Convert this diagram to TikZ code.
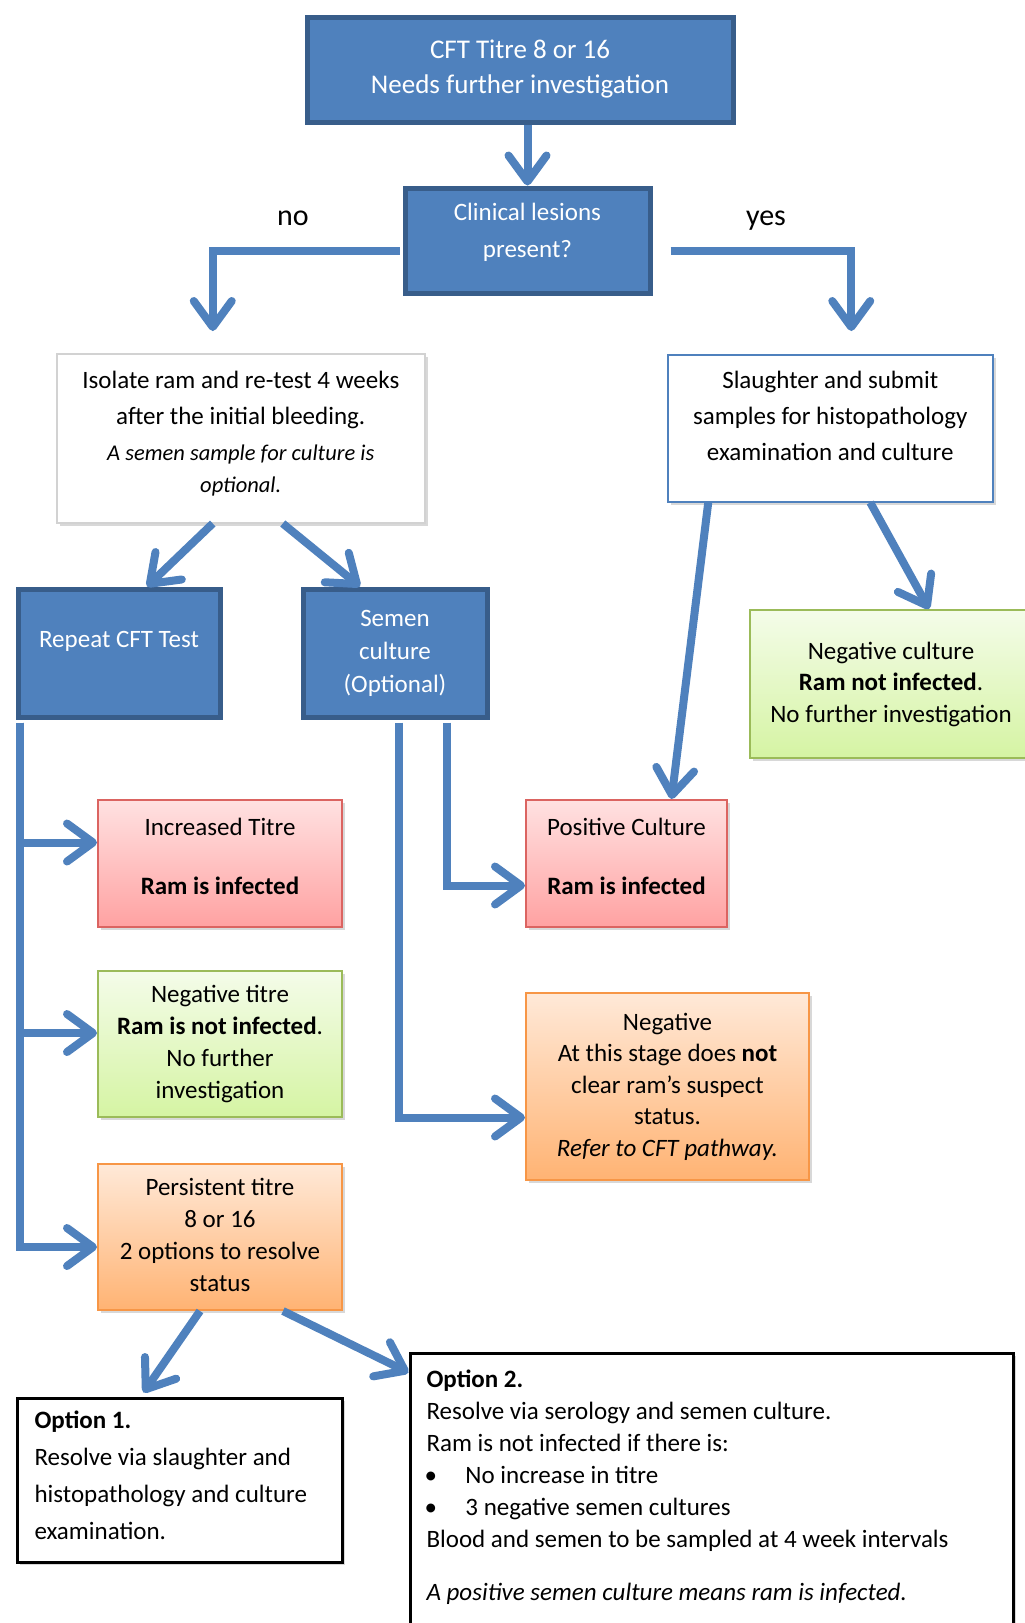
\documentclass[tikz,border=0pt]{standalone}
\usepackage{fontspec}
\setmainfont{Carlito}
\usetikzlibrary{arrows.meta, positioning, shadows}

\definecolor{flowblue}{HTML}{4F81BD}
\definecolor{flowedge}{HTML}{385D8A}
\definecolor{redtop}{HTML}{FFE1E1}
\definecolor{redbottom}{HTML}{FFA2A2}
\definecolor{rededge}{HTML}{DB6461}
\definecolor{greentop}{HTML}{F4FCE9}
\definecolor{greenbottom}{HTML}{D5F4A3}
\definecolor{greenedge}{HTML}{9BBB59}
\definecolor{orangetop}{HTML}{FFE9D8}
\definecolor{orangebottom}{HTML}{FFB373}
\definecolor{orangeedge}{HTML}{F79646}

\begin{document}
\begin{tikzpicture}[
        x=1pt, y=-1pt, % one unit = one pixel of the sketch, y pointing down
        font=\fontsize{25}{32}\selectfont,
        box/.style={anchor=north west, inner sep=0pt, align=center},
        flow/.style={draw=flowblue, line width=8pt, -{Straight Barb[length=26pt, width=38pt, round]}},
        shadowed/.style={drop shadow={shadow xshift=3pt, shadow yshift=-3pt, opacity=0.3}},
        bluebox/.style={box, draw=flowedge, line width=5pt, fill=flowblue, text=white},
        whitebox/.style={box, shadowed, draw=gray!35, line width=1.5pt, fill=white},
        redbox/.style={box, shadowed, draw=rededge, line width=2pt, top color=redtop, bottom color=redbottom},
        greenbox/.style={box, shadowed, draw=greenedge, line width=2pt, top color=greentop, bottom color=greenbottom},
        orangebox/.style={box, shadowed, draw=orangeedge, line width=2pt, top color=orangetop, bottom color=orangebottom},
        optionbox/.style={box, shadowed, draw=black, line width=3pt, fill=white},
        answer/.style={anchor=base, font=\fontsize{30}{36}\selectfont}
    ]

    \fill[white] (0,0) rectangle (1025,1623);
    \useasboundingbox (0,0) rectangle (1025,1623);

    % --- Nodes ---
    \node[bluebox, minimum width=426pt, minimum height=105pt, font=\fontsize{27}{35}\selectfont] (cft) at (304.5,14.5)
        {CFT Titre 8 or 16\\Needs further investigation};
    \node[bluebox, minimum width=245pt, minimum height=105pt, font=\fontsize{25}{37}\selectfont] (lesions) at (402.5,185.5)
        {Clinical lesions\\present?\\[-17pt]\mbox{}};
    \node[answer] (nolabel) at (293,225) {no};
    \node[answer] (yeslabel) at (766,225) {yes};

    \node[whitebox, minimum width=368pt, minimum height=169pt, font=\fontsize{25}{36}\selectfont] (isolate) at (56,353)
        {Isolate ram and re-test 4 weeks\\after the initial bleeding.\\
         {\fontsize{22.5}{32}\selectfont\itshape A semen sample for culture is}\\[-4pt]
         {\fontsize{22.5}{32}\selectfont\itshape optional.}\\[-24pt]\mbox{}};
    \node[whitebox, draw=flowblue, minimum width=325pt, minimum height=147pt, font=\fontsize{25}{36}\selectfont] (slaughter) at (667,354)
        {Slaughter and submit\\samples for histopathology\\examination and culture\\[-11pt]\mbox{}};

    \node[bluebox, minimum width=202pt, minimum height=128pt] (retest) at (15.5,586.5)
        {Repeat CFT Test\\[-4pt]\mbox{}};
    \node[bluebox, minimum width=184pt, minimum height=128pt, font=\fontsize{25}{33}\selectfont] (semen) at (300.5,586.5)
        {Semen\\culture\\(Optional)};
    \node[greenbox, minimum width=282pt, minimum height=148pt, font=\fontsize{25}{31.5}\selectfont] (negcult) at (749,609)
        {Negative culture\\\textbf{Ram not infected}.\\No further investigation};

    \node[redbox, minimum width=244pt, minimum height=127pt] (inctitre) at (97,799)
        {Increased Titre\\[27pt]\textbf{Ram is infected}\\[-18pt]\mbox{}};
    \node[redbox, minimum width=201pt, minimum height=127pt] (poscult) at (525,799)
        {Positive Culture\\[27pt]\textbf{Ram is infected}\\[-18pt]\mbox{}};
    \node[greenbox, minimum width=244pt, minimum height=146pt] (negtitre) at (97,970)
        {Negative titre\\\textbf{Ram is not infected}.\\No further\\investigation};
    \node[orangebox, minimum width=283pt, minimum height=187pt, font=\fontsize{25}{31.5}\selectfont] (negsemen) at (525,992)
        {Negative\\At this stage does \textbf{not}\\clear ram’s suspect\\status.\\\textit{Refer to CFT pathway.}};
    \node[orangebox, minimum width=244pt, minimum height=146pt] (persist) at (97,1163)
        {Persistent titre\\8 or 16\\2 options to resolve\\status\\[-28pt]\mbox{}};

    \node[optionbox, inner xsep=17.5pt, inner ysep=12.5pt, font=\fontsize{25}{37}\selectfont] (opt1) at (15.5,1396.5)
        {\parbox[c][139pt][t]{290pt}{\textbf{Option 1.}\\Resolve via slaughter and\\histopathology and culture\\examination.}};
    \node[optionbox, inner xsep=16.5pt, inner ysep=16.5pt] (opt2) at (408.5,1351.5)
        {\parbox[c][275pt][t]{570pt}{\textbf{Option 2.}\\
        Resolve via serology and semen culture.\\
        Ram is not infected if there is:\\
        \makebox[39pt][l]{\hspace{-2pt}\textbullet}No increase in titre\\
        \makebox[39pt][l]{\hspace{-2pt}\textbullet}3 negative semen cultures\\
        Blood and semen to be sampled at 4 week intervals\\[21pt]
        \textit{A positive semen culture means ram is infected.}}};

    % --- Connections ---
    \draw[flow] (cft.south -| lesions.north) -- (lesions.north);

    % no / yes
    \draw[flow] ([xshift=-3pt, yshift=-10pt]lesions.west) -| ([xshift=-28pt, yshift=22pt]isolate.north);
    \draw[flow] ([xshift=18pt, yshift=-10pt]lesions.east) -| ([xshift=21pt, yshift=23pt]slaughter.north);

    % isolate ram
    \draw[flow] ([xshift=-28pt]isolate.south) -- ([xshift=28pt]retest.north);
    \draw[flow] ([xshift=42pt]isolate.south) -- ([xshift=-35pt]semen.north);

    % slaughter
    \draw[flow] ([xshift=-122pt]slaughter.south) -- ([xshift=45pt]poscult.north);
    \draw[flow] ([xshift=40pt]slaughter.south) -- ([xshift=38pt]negcult.north);

    % repeat CFT test
    \draw[flow] ([xshift=4pt, yshift=-3pt]retest.south west) |- ([yshift=21pt]inctitre.west);
    \draw[flow] ([xshift=4pt, yshift=-3pt]retest.south west) |- ([yshift=11pt]negtitre.west);
    \draw[flow] ([xshift=4pt, yshift=-3pt]retest.south west) |- ([yshift=-10pt]persist.west);

    % semen culture
    \draw[flow] ([xshift=52pt, yshift=-3pt]semen.south) |- ([yshift=-22pt]poscult.west);
    \draw[flow] ([xshift=4pt, yshift=-3pt]semen.south) |- ([yshift=-31pt]negsemen.west);

    % persistent titre
    \draw[flow] ([xshift=-20pt]persist.south) -- ([xshift=-36pt, yshift=4pt]opt1.north);
    \draw[flow] ([xshift=63pt]persist.south) -- ([yshift=-21pt]opt2.north west);

\end{tikzpicture}
\end{document}
